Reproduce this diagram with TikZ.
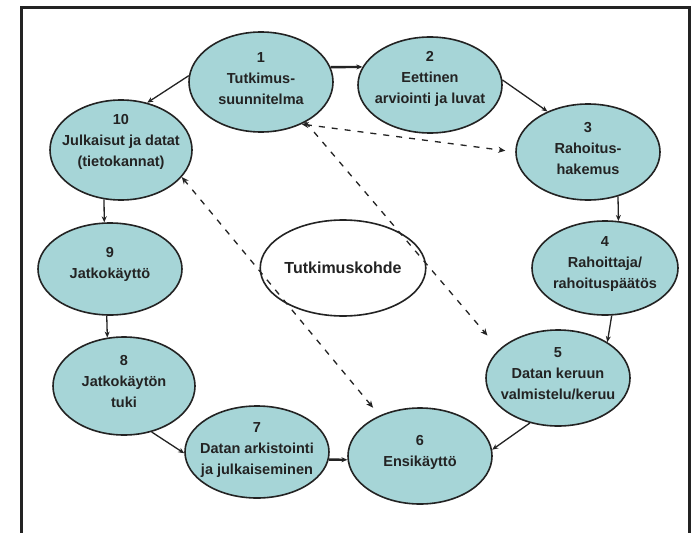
\documentclass[tikz,border=0pt]{standalone}
\usepackage{fontspec}
\setmainfont{Liberation Sans}
\usetikzlibrary{shapes.geometric,arrows.meta}
\definecolor{tealfill}{RGB}{166,213,215}
\definecolor{inkc}{RGB}{35,35,35}
\begin{document}
\begin{tikzpicture}[x=1pt,y=-1pt,
  ell/.style={ellipse,draw=inkc,line width=1.6pt,fill=tealfill,inner sep=0pt,minimum width=144pt,minimum height=96pt},
  txt/.style={font=\bfseries\fontsize{14.5}{21}\selectfont,align=center,inner sep=0pt,text=inkc},
  con/.style={line width=1.3pt,draw=inkc,-{Stealth[length=6pt,width=5pt]}},
  thick con/.style={con,line width=2.4pt},
  dsh/.style={line width=1.3pt,draw=inkc,dash pattern=on 6pt off 7pt},
  tip/.style={-{Stealth[length=7pt,width=6pt]}},
  tips/.style={{Stealth[length=7pt,width=6pt]}-{Stealth[length=7pt,width=6pt]}}
]
\useasboundingbox (0,0) rectangle (695,532);
\fill[white] (0,0) rectangle (695,532);
\draw[line width=3pt,draw=inkc] (21,560) -- (21,8) -- (689,8) -- (689,560);

\node[ell,minimum height=100pt,label={[txt,yshift=3pt]center:1\\Tutkimus-\\suunnitelma}] (n1) at (261,82) {};
\node[ell,label={[txt,yshift=6pt]center:2\\Eettinen\\arviointi ja luvat}] (n2) at (430,85) {};
\node[ell,label={[txt,yshift=3pt]center:3\\Rahoitus-\\hakemus}] (n3) at (588,152) {};
\node[ell,minimum width=146pt,minimum height=94pt,label={[txt,yshift=4pt]center:4\\Rahoittaja/\\rahoituspäätös}] (n4) at (605,268) {};
\node[ell,label={[txt,yshift=4pt]center:5\\Datan keruun\\valmistelu/keruu}] (n5) at (558,378) {};
\node[ell,label={[txt,yshift=4pt]center:6\\Ensikäyttö}] (n6) at (420,456) {};
\node[ell,minimum height=92pt,label={[txt,yshift=2pt]center:7\\Datan arkistointi\\ja julkaiseminen}] (n7) at (257,452) {};
\node[ell,minimum width=142pt,minimum height=98pt,label={[txt,yshift=4pt]center:8\\Jatkokäytön\\tuki}] (n8) at (124,386) {};
\node[ell,minimum height=92pt,label={[txt,yshift=5pt]center:9\\Jatkokäyttö}] (n9) at (110,269) {};
\node[ell,minimum width=142pt,minimum height=100pt,label={[txt,yshift=8pt]center:10\\Julkaisut ja datat\\(tietokannat)}] (n10) at (121,150) {};
\node[ellipse,draw=inkc,line width=1.6pt,fill=white,inner sep=0pt,minimum width=140pt,minimum height=96pt,font=\bfseries\fontsize{16}{20}\selectfont,text=inkc] (c) at (343,268) {Tutkimuskohde};

\draw[thick con] (n1.12) -- (n2.165);
\draw[con] (n2.4) -- (n3.135);
\draw[con] (n3.-56) -- (n4.74);
\draw[con] (n4.-82) -- (n5.36);
\draw[con] (n5.-122) -- (n6.5);
\draw[thick con] (n7.-6) -- (n6.-177);
\draw[con] (n8.-59) -- (n7.181);
\draw[con] (n9.-94) -- (n8.109);
\draw[con] (n10.-109) -- (n9.97);
\draw[con] (n1.175) -- (n10.61);

\draw[dsh,tips,shorten >=10pt] (n1.-46) -- (n3.180);
\draw[dsh,tip,shorten >=18pt] (n1.-42) -- (n5.154);
\draw[dsh,tips,shorten <=10pt] (n6.135) -- (n10.-24);
\end{tikzpicture}
\end{document}
